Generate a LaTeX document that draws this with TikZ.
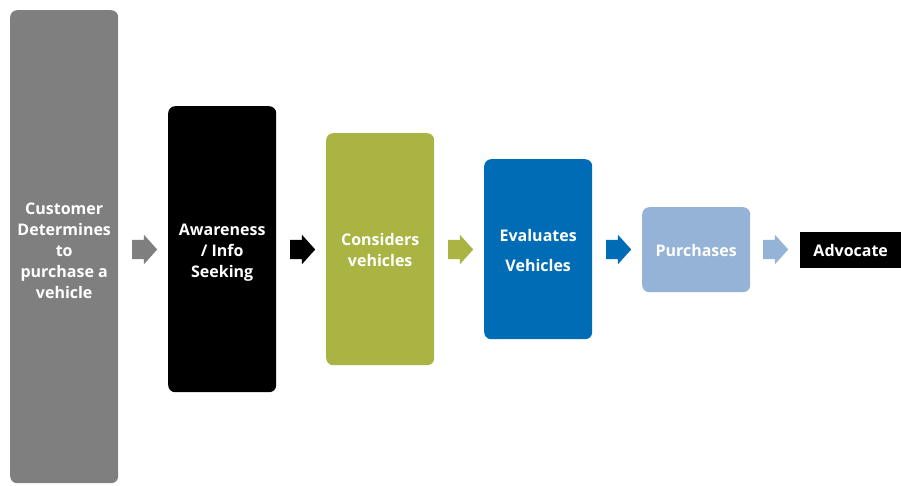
\documentclass[tikz,border=0pt]{standalone}
\usepackage{fontspec}
\setmainfont{Open Sans}
\usetikzlibrary{shapes.arrows}
\definecolor{cgray}{HTML}{7F7F7F}
\definecolor{colive}{HTML}{A9B443}
\definecolor{cblue}{HTML}{006CB6}
\definecolor{clight}{HTML}{95B3D7}
\newcommand\stagetxt[2]{\parbox{106pt}{\centering\vspace*{#1}#2}}
\tikzset{
  stage/.style={rounded corners=7pt, inner sep=0pt, anchor=north west, minimum width=108pt,
    text=white, font=\bfseries\fontsize{16}{21}\selectfont},
  flowarrow/.style={single arrow, anchor=tail, inner xsep=0pt, inner ysep=9.5pt, minimum width=29pt, minimum height=25pt,
    single arrow head extend=5pt, single arrow tip angle=96, draw=none}
}
\begin{document}
\begin{tikzpicture}[x=1pt,y=-1pt]
\useasboundingbox (0,0) rectangle (901,485);
\node[stage, fill=cgray, minimum height=473pt] (s1) at (10,10) {\stagetxt{8pt}{Customer\\Determines\\to\\purchase a\\vehicle}};
\node[stage, fill=black, minimum height=286pt] (s2) at (168,106) {\stagetxt{6pt}{Awareness\\/ Info\\Seeking}};
\node[stage, fill=colive, minimum height=232pt] (s3) at (326,133) {\stagetxt{2pt}{Considers\\vehicles}};
\node[stage, fill=cblue, minimum height=180pt, font=\bfseries\fontsize{16}{30}\selectfont] (s4) at (484,159) {\stagetxt{2pt}{Evaluates\\Vehicles}};
\node[stage, fill=clight, minimum height=85pt] (s5) at (642,207) {\stagetxt{2pt}{Purchases}};
\node[stage, rounded corners=0pt, fill=black, minimum width=101pt, minimum height=36pt] (s6) at (800,232) {Advocate};
\node[flowarrow, fill=cgray] (a1) at (132,249.5) {};
\node[flowarrow, fill=black] (a2) at (290,249.5) {};
\node[flowarrow, fill=colive] (a3) at (448,249.5) {};
\node[flowarrow, fill=cblue] (a4) at (606,249.5) {};
\node[flowarrow, fill=clight] (a5) at (763,249.5) {};
\end{tikzpicture}
\end{document}
